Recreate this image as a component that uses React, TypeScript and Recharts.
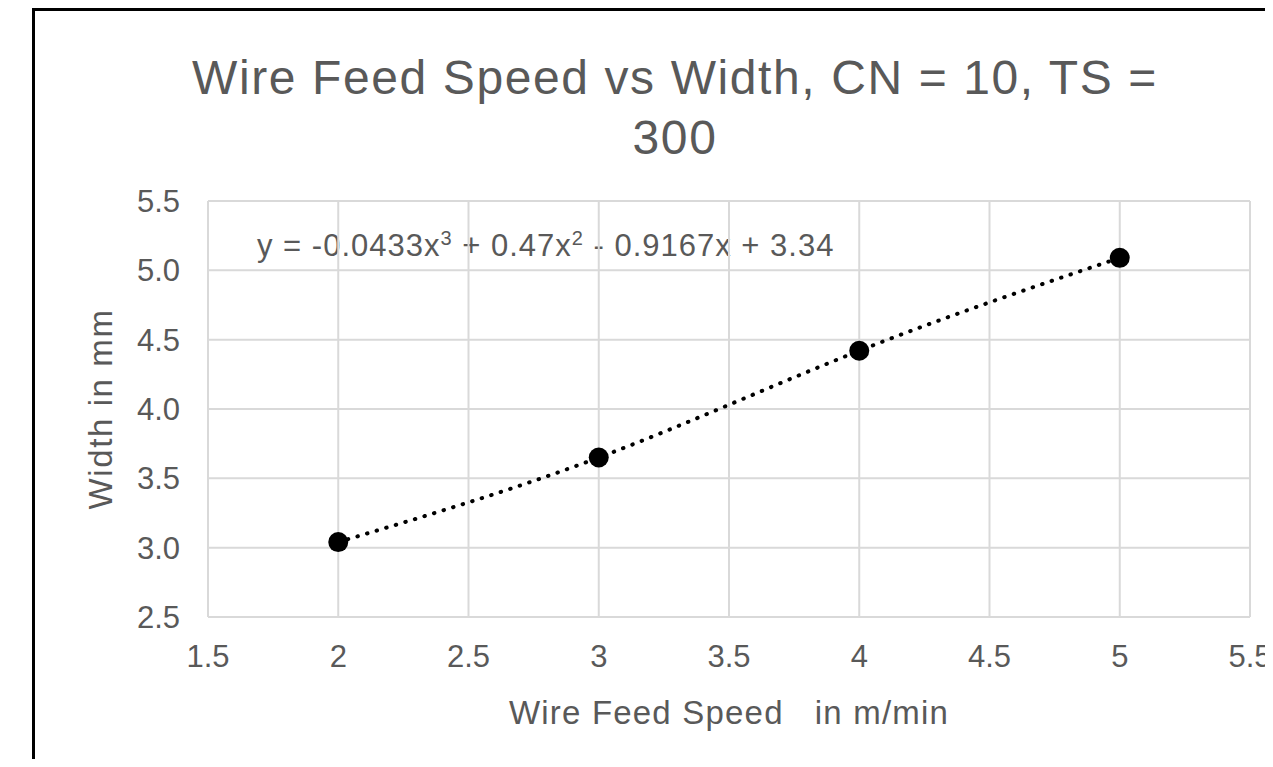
import React from 'react';
import { ComposedChart, Line, XAxis, YAxis, CartesianGrid, Label } from 'recharts';

const speeds = [2, 3, 4, 5];
const widths = [3.04, 3.65, 4.42, 5.09];
const xTicks = [1.5, 2, 2.5, 3, 3.5, 4, 4.5, 5, 5.5];
const yTicks = [2.5, 3.0, 3.5, 4.0, 4.5, 5.0, 5.5];

const FONT = '"Liberation Sans", Arial, sans-serif';
const TEXT = '#595959';
const GRID = '#d9d9d9';

const data = speeds.map((s, i) => ({ speed: s, width: widths[i] }));

const Marker = (props: any) => {
  const { cx, cy, index } = props;
  return <circle key={`m-${index}`} cx={cx} cy={cy} r={10} fill="#000" />;
};

const App: React.FC = () => {
  return (
    <div style={{ position: 'relative', width: 1265, height: 759, marginRight: -8, marginBottom: -8, overflow: 'hidden', fontFamily: FONT }}>
      <div style={{ position: 'absolute', left: 24, top: 0, right: 0, bottom: 0, borderLeft: '3px solid #000', borderTop: '3px solid #000' }} />
      <div style={{ position: 'absolute', left: 0, width: 1334, top: 40, textAlign: 'center', color: TEXT, fontSize: 48, lineHeight: '60px', letterSpacing: 1.6 }}>
        Wire Feed Speed vs Width, CN = 10, TS =<br />300
      </div>
      <div style={{ position: 'absolute', left: 249, top: 219, color: TEXT, fontSize: 31, whiteSpace: 'nowrap', letterSpacing: 1 }}>
        y = -0.0433x<sup style={{ fontSize: 20 }}>3</sup> + 0.47x<sup style={{ fontSize: 20 }}>2</sup> - 0.9167x + 3.34
      </div>
      <div style={{ position: 'absolute', left: 0, top: 0 }}>
        <ComposedChart width={1265} height={759} data={data} margin={{ top: 193, right: 23, bottom: 90, left: 120 }}>
          <CartesianGrid stroke={GRID} strokeWidth={2} />
          <XAxis
            type="number"
            dataKey="speed"
            domain={[1.5, 5.5]}
            ticks={xTicks}
            height={60}
            axisLine={{ stroke: GRID, strokeWidth: 2 }}
            tickLine={false}
            tickMargin={22}
            tick={{ fill: TEXT, fontSize: 31, fontFamily: FONT }}
          >
            <Label value={'Wire Feed Speed\u00A0\u00A0 in m/min'} position="bottom" offset={24} fill={TEXT} fontSize={33} fontFamily={FONT} letterSpacing={1.2} />
          </XAxis>
          <YAxis
            type="number"
            domain={[2.5, 5.5]}
            ticks={yTicks}
            width={80}
            axisLine={{ stroke: GRID, strokeWidth: 2 }}
            tickLine={false}
            tickMargin={22}
            tickFormatter={(v: number) => v.toFixed(1)}
            tick={{ fill: TEXT, fontSize: 31, fontFamily: FONT }}
          >
            <Label value="Width in mm" angle={-90} position="insideLeft" offset={-28} fill={TEXT} fontSize={33} fontFamily={FONT} letterSpacing={1.6} style={{ textAnchor: 'middle' }} />
          </YAxis>
          <Line
            type="natural"
            dataKey="width"
            stroke="#000"
            strokeWidth={4}
            strokeDasharray="0.5 9.5"
            strokeLinecap="round"
            dot={false}
            activeDot={false}
            isAnimationActive={false}
          />
          <Line
            type="linear"
            dataKey="width"
            stroke="none"
            dot={Marker}
            activeDot={false}
            isAnimationActive={false}
          />
        </ComposedChart>
      </div>
    </div>
  );
};

export default App;
